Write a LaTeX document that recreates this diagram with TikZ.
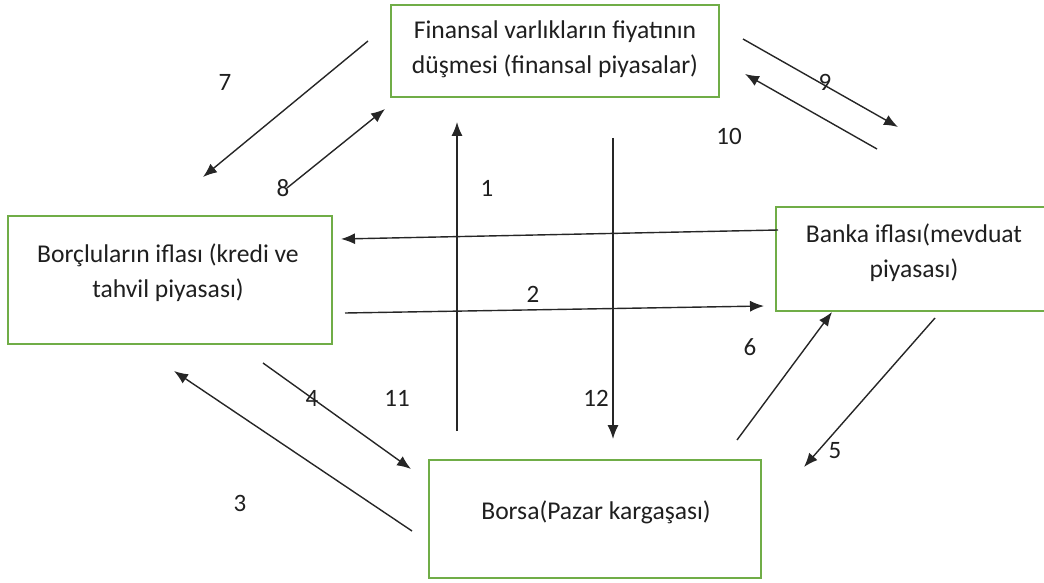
\documentclass[tikz,border=0pt]{standalone}
\usepackage{fontspec}
\setmainfont{Carlito}
\usetikzlibrary{arrows.meta}
\definecolor{boxgreen}{HTML}{70AD47}
\begin{document}
\begin{tikzpicture}[x=1pt,y=-1pt,
  greenbox/.style={draw=boxgreen,line width=1.8pt,fill=white},
  boxtext/.style={font=\fontsize{25.6}{35}\selectfont,align=center,inner sep=0pt,text=black!88},
  num/.style={font=\fontsize{25}{28}\selectfont,inner sep=0pt,text=black!88},
  conn/.style={line width=1.4pt,draw=black!85,-{Latex[length=14pt,width=11pt]}}]
\useasboundingbox (0,0) rectangle (1044,583);
\clip (0,0) rectangle (1044,583);
% boxes
\draw[greenbox] (391,5) rectangle (719,97);
\draw[greenbox] (8,216) rectangle (332,344);
\draw[greenbox] (776,207) rectangle (1060,311);
\draw[greenbox] (429,460) rectangle (761,578);
% box texts
\node[boxtext] (fin) at (555,49) {Finansal varlıkların fiyatının\\düşmesi (finansal piyasalar)};
\node[boxtext] (bor) at (168,273) {Borçluların iflası (kredi ve\\tahvil piyasası)};
\node[boxtext] (ban) at (914,253) {Banka iflası(mevduat\\piyasası)};
\node[boxtext] (bors) at (596,512) {Borsa(Pazar kargaşası)};
% connector end points
\coordinate (a7s) at (368,41);  \coordinate (a7e) at (203,177);
\coordinate (a8s) at (287,188); \coordinate (a8e) at (385,109);
\coordinate (a9s) at (743,39);  \coordinate (a9e) at (898,127);
\coordinate (a10s) at (877,149); \coordinate (a10e) at (745,74);
\coordinate (a1s) at (457,431); \coordinate (a1e) at (457,122);
\coordinate (a12s) at (613,138); \coordinate (a12e) at (613,439);
\coordinate (ahs) at (778,230); \coordinate (ahe) at (341,239);
\coordinate (a2s) at (345,313); \coordinate (a2e) at (764,306);
\coordinate (a3s) at (412,531); \coordinate (a3e) at (174,371);
\coordinate (a4s) at (263,363); \coordinate (a4e) at (411,469);
\coordinate (a6s) at (737,440); \coordinate (a6e) at (832,312);
\coordinate (a5s) at (935,318); \coordinate (a5e) at (804,467);
% connectors
\draw[conn] (a7s) -- (a7e);
\draw[conn] (a8s) -- (a8e);
\draw[conn] (a9s) -- (a9e);
\draw[conn] (a10s) -- (a10e);
\draw[conn] (a1s) -- (a1e);
\draw[conn] (a12s) -- (a12e);
\draw[conn] (ahs) -- (ahe);
\draw[conn] (a2s) -- (a2e);
\draw[conn] (a3s) -- (a3e);
\draw[conn] (a4s) -- (a4e);
\draw[conn] (a6s) -- (a6e);
\draw[conn] (a5s) -- (a5e);
% numbers
\node[num] (n1) at (487,188) {1};
\node[num] (n2) at (533,294) {2};
\node[num] (n3) at (240,503) {3};
\node[num] (n4) at (312,398) {4};
\node[num] (n5) at (835,451) {5};
\node[num] (n6) at (750,347) {6};
\node[num] (n7) at (225,82) {7};
\node[num] (n8) at (283,188) {8};
\node[num] (n9) at (825,82) {9};
\node[num] (n10) at (729,136) {10};
\node[num] (n11) at (397,398) {11};
\node[num] (n12) at (596,398) {12};
\end{tikzpicture}
\end{document}
